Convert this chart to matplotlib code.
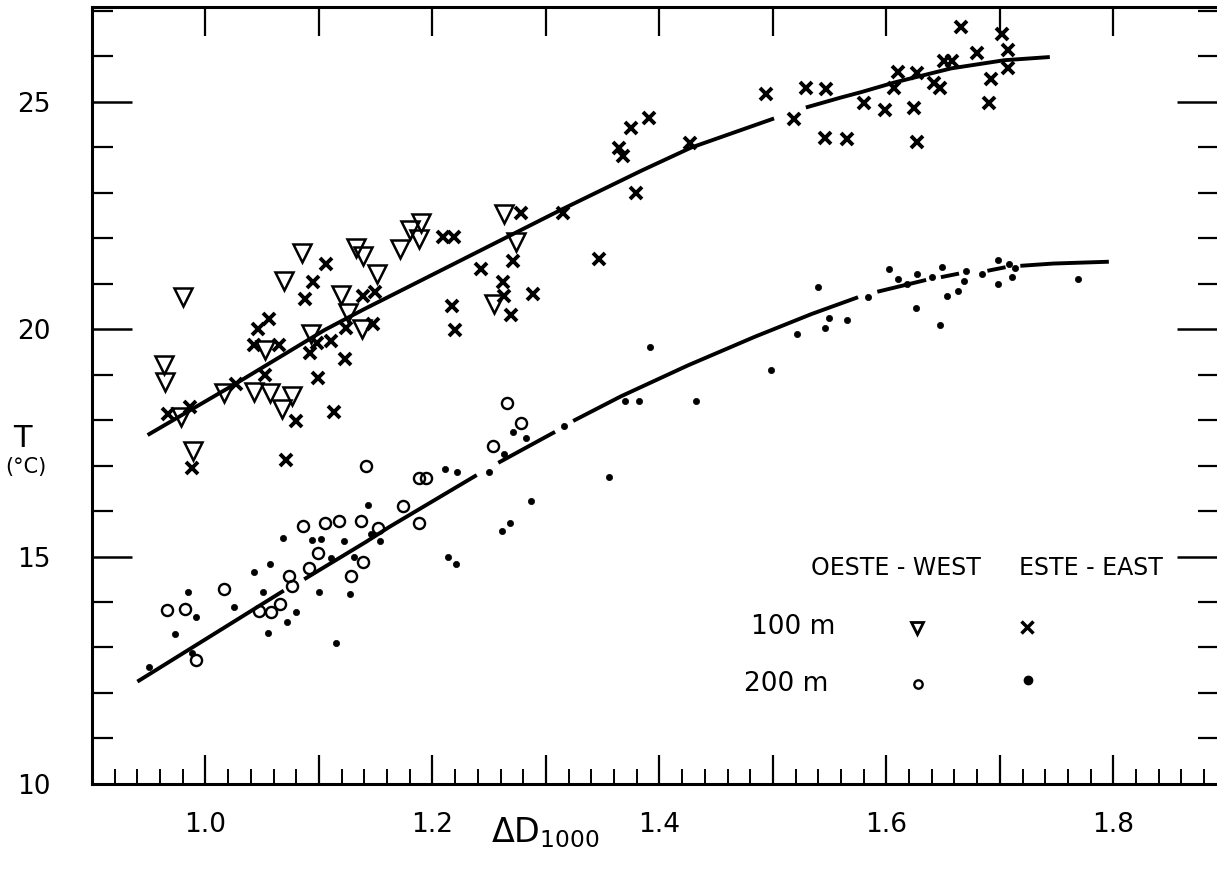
import numpy as np
import matplotlib
matplotlib.use("Agg")
import matplotlib.pyplot as plt
from matplotlib.ticker import MultipleLocator, FixedLocator

# 100 m, oeste (triangulos)
west100_x = [0.980, 0.963, 0.964, 0.978, 0.989, 1.016, 1.043, 1.057, 1.067, 1.076, 1.052, 1.093, 1.069, 1.085,
             1.263, 1.190, 1.180, 1.188, 1.171, 1.133, 1.139, 1.151, 1.119, 1.126, 1.138, 1.274, 1.254]
west100_y = [20.71, 19.21, 18.84, 18.06, 17.33, 18.59, 18.61, 18.59, 18.24, 18.53, 19.55, 19.89, 21.06, 21.68,
             22.54, 22.34, 22.18, 21.99, 21.77, 21.79, 21.60, 21.20, 20.75, 20.36, 20.00, 21.92, 20.55]

# 100 m, este (cruces)
east100_x = [0.967, 0.986, 1.027, 1.052, 1.043, 1.065, 1.046, 1.056, 1.106, 1.095, 1.088, 1.111, 1.098, 1.092,
             1.099, 1.113, 1.080, 1.071, 0.988,
             1.278, 1.315, 1.209, 1.219, 1.271, 1.243, 1.262, 1.289, 1.263, 1.217, 1.269, 1.220, 1.139, 1.149,
             1.148, 1.124, 1.123,
             1.347, 1.379, 1.364, 1.368, 1.375, 1.391, 1.427, 1.494, 1.519, 1.529, 1.547, 1.546, 1.565,
             1.580, 1.599, 1.624, 1.627, 1.607, 1.610, 1.627, 1.642, 1.647, 1.651, 1.658, 1.666, 1.680, 1.692,
             1.690, 1.702, 1.707, 1.707]
east100_y = [18.13, 18.29, 18.79, 18.99, 19.65, 19.65, 20.00, 20.23, 21.42, 21.04, 20.65, 19.74, 19.69, 19.48,
             18.93, 18.18, 17.98, 17.12, 16.94,
             22.56, 22.56, 22.03, 22.03, 21.50, 21.33, 21.04, 20.76, 20.73, 20.51, 20.31, 19.99, 20.73, 20.81,
             20.11, 20.02, 19.34,
             21.54, 23.00, 23.97, 23.81, 24.41, 24.65, 24.09, 25.16, 24.61, 25.31, 25.27, 24.19, 24.18,
             24.97, 24.81, 24.85, 24.12, 25.31, 25.66, 25.62, 25.40, 25.29, 25.89, 25.89, 26.64, 26.06, 25.49,
             24.98, 26.48, 26.13, 25.74]

# 200 m, oeste (circulos)
west200_x = [1.141, 1.086, 1.105, 1.118, 1.137, 1.152, 1.099, 1.091, 1.074, 1.076, 1.139, 1.128, 1.016, 0.966,
             0.982, 0.992, 1.047, 1.058, 1.066,
             1.266, 1.278, 1.253, 1.188, 1.194, 1.174, 1.188]
west200_y = [16.99, 15.67, 15.74, 15.77, 15.78, 15.62, 15.08, 14.75, 14.58, 14.36, 14.87, 14.57, 14.29, 13.82,
             13.85, 12.73, 13.81, 13.77, 13.95,
             18.37, 17.94, 17.43, 16.72, 16.72, 16.11, 15.74]

# 200 m, este (puntos)
east200_x = [1.143, 1.068, 1.094, 1.102, 1.122, 1.146, 1.154, 1.057, 1.043, 1.111, 1.131, 0.985, 1.051, 1.100,
             1.127, 1.025, 1.080, 0.992, 0.973, 1.072, 1.055, 1.115, 0.988, 0.950,
             1.271, 1.282, 1.263, 1.211, 1.222, 1.250, 1.316, 1.370, 1.382, 1.356, 1.287, 1.268, 1.261, 1.214,
             1.221,
             1.392, 1.432, 1.498, 1.521, 1.540, 1.546, 1.549, 1.565, 1.584, 1.602, 1.610, 1.627, 1.618, 1.640,
             1.626, 1.647,
             1.649, 1.670, 1.668, 1.663, 1.653, 1.684, 1.698, 1.708, 1.713, 1.711, 1.698, 1.769]
east200_y = [16.13, 15.40, 15.36, 15.39, 15.34, 15.49, 15.33, 14.84, 14.67, 14.96, 14.98, 14.21, 14.23, 14.21,
             14.17, 13.90, 13.79, 13.68, 13.30, 13.55, 13.31, 13.09, 12.87, 12.56,
             17.74, 17.61, 17.25, 16.92, 16.86, 16.86, 17.87, 18.42, 18.42, 16.74, 16.22, 15.73, 15.57, 14.98,
             14.84,
             19.61, 18.42, 19.10, 19.89, 20.92, 20.02, 20.24, 20.20, 20.71, 21.32, 21.10, 21.22, 21.00, 21.15,
             20.47, 20.09,
             21.37, 21.27, 21.06, 20.84, 20.73, 21.22, 21.52, 21.44, 21.35, 21.14, 20.99, 21.11]

# curvas dibujadas a mano (nan = hueco en el trazo)
curve100_x = [0.949, 1.026, 1.105, 1.140, 1.314, 1.384, 1.428, 1.501, np.nan,
              1.529, 1.560, 1.578, 1.607, 1.657, 1.704, 1.744]
curve100_y = [17.67, 18.79, 19.98, 20.44, 22.63, 23.48, 23.99, 24.63, np.nan,
              24.87, 25.09, 25.21, 25.42, 25.73, 25.91, 25.98]

curve200_x = [0.940, 1.069, np.nan, 1.087, 1.142, 1.162, 1.239, np.nan, 1.258, 1.308, np.nan,
              1.324, 1.366, 1.425, 1.484, 1.534, 1.575, np.nan, 1.592, 1.635, np.nan, 1.648, 1.664, np.nan,
              1.689, 1.705, np.nan, 1.718, 1.747, 1.796]
curve200_y = [12.25, 14.25, np.nan, 14.50, 15.33, 15.65, 16.79, np.nan, 17.06, 17.74, np.nan,
              17.98, 18.52, 19.20, 19.83, 20.33, 20.70, np.nan, 20.82, 21.08, np.nan, 21.14, 21.22, np.nan,
              21.28, 21.36, np.nan, 21.39, 21.44, 21.48]

x_ticks = [1.0, 1.1, 1.2, 1.3, 1.4, 1.5, 1.6, 1.7, 1.8]
x_ticklabels = ["1.0", "", "1.2", "", "1.4", "", "1.6", "", "1.8"]
y_ticks = [10, 15, 20, 25]
y_ticklabels = ["10", "15", "20", "25"]

fig = plt.figure(figsize=(12.17, 8.73), dpi=100)
ax = fig.add_axes([0.0756, 0.102, 0.9325, 0.890])

ax.plot(curve100_x, curve100_y, color="black", lw=2.8, solid_capstyle="butt")
ax.plot(curve200_x, curve200_y, color="black", lw=2.8, solid_capstyle="butt")

ax.plot(west100_x, west100_y, ls="none", marker="v", ms=13, mfc="none", mec="black", mew=1.8)
ax.plot(east100_x, east100_y, ls="none", marker="x", ms=9, mec="black", mew=2.8)
ax.plot(west200_x, west200_y, ls="none", marker="o", ms=8, mfc="none", mec="black", mew=1.7)
ax.plot(east200_x, east200_y, ls="none", marker="o", ms=4.5, mfc="black", mec="black", mew=0.5)

ax.set_xlim(0.90, 1.90)
ax.set_ylim(10, 27.08)

for s in ax.spines.values():
    s.set_linewidth(2.2)

ax.set_xticks(x_ticks)
ax.set_xticklabels(x_ticklabels)
ax.xaxis.set_minor_locator(MultipleLocator(0.02))
ax.set_yticks(y_ticks)
ax.set_yticklabels(y_ticklabels)
ax.yaxis.set_minor_locator(MultipleLocator(1))

ax.tick_params(axis="x", which="major", direction="in", length=21, width=1.6, top=True,
               pad=20, labelsize=19)
ax.tick_params(axis="x", which="minor", direction="in", length=11, width=1.4, top=False)
ax.tick_params(axis="y", which="major", direction="in", length=29, width=1.8, pad=30, labelsize=19)
ax.tick_params(axis="y", which="minor", direction="in", length=15, width=1.6)

# ticks del lado derecho (mas largos)
sec = ax.secondary_yaxis("right")
sec.yaxis.set_major_locator(FixedLocator(y_ticks))
sec.yaxis.set_minor_locator(MultipleLocator(1))
sec.tick_params(which="major", direction="in", length=36, width=1.8, labelright=False)
sec.tick_params(which="minor", direction="in", length=21, width=1.6)

# leyenda
ax.text(0.708, 0.278, "OESTE - WEST", transform=ax.transAxes, ha="center", va="center", fontsize=17)
ax.text(0.880, 0.278, "ESTE - EAST", transform=ax.transAxes, ha="center", va="center", fontsize=17)
ax.text(0.618, 0.202, "100 m", transform=ax.transAxes, ha="center", va="center", fontsize=19)
ax.text(0.612, 0.129, "200 m", transform=ax.transAxes, ha="center", va="center", fontsize=19)
ax.plot([0.727], [0.201], transform=ax.transAxes, marker="v", ms=9, mfc="none", mec="black", mew=2)
ax.plot([0.824], [0.202], transform=ax.transAxes, marker="x", ms=8, mec="black", mew=2.5)
ax.plot([0.728], [0.129], transform=ax.transAxes, marker="o", ms=6, mfc="none", mec="black", mew=1.7)
ax.plot([0.825], [0.134], transform=ax.transAxes, marker="o", ms=6, mfc="black", mec="black")

fig.text(0.448, 0.046, r"$\Delta$D$_{\mathregular{1000}}$", ha="center", va="center", fontsize=24)
fig.text(0.018, 0.498, "T", ha="center", va="center", fontsize=22)
fig.text(0.021, 0.465, "(°C)", ha="center", va="center", fontsize=15)

fig.savefig("out.png", dpi=100)
